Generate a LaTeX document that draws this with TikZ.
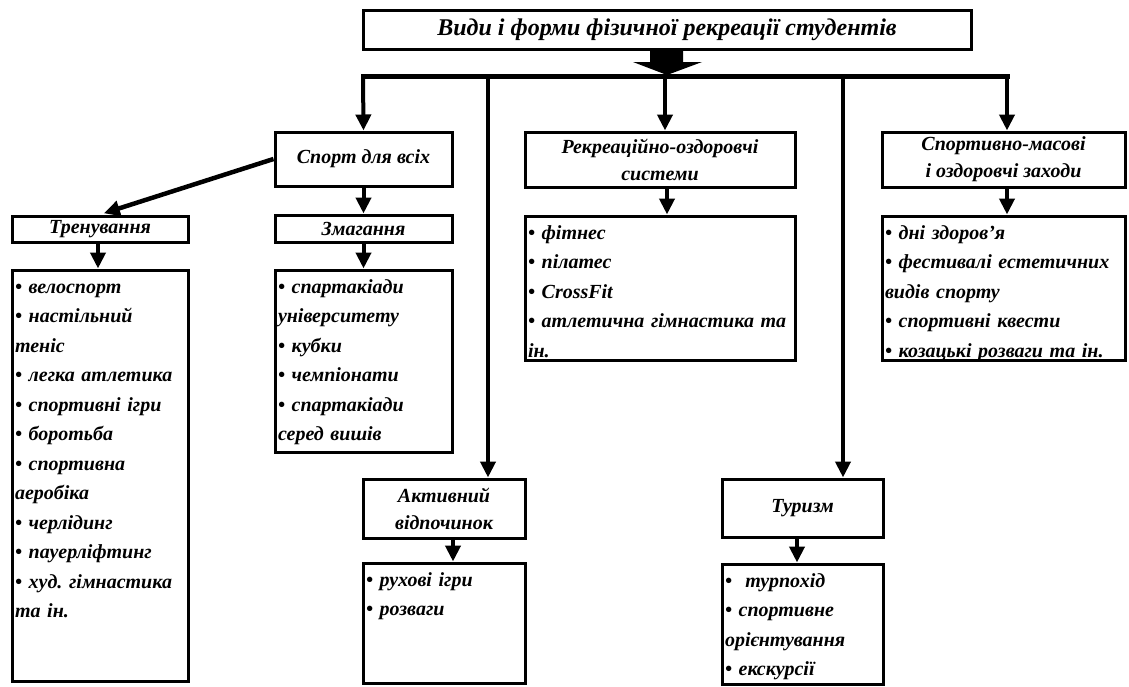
\documentclass[tikz,border=0pt]{standalone}
\usepackage{fontspec}
\setmainfont{Liberation Serif}
\usetikzlibrary{arrows.meta}
\frenchspacing
\newcommand{\entries}[2]{\parbox[c][#1pt][t]{\linewidth}{\raggedright\rule{0pt}{23pt}#2}}

\begin{document}
\begin{tikzpicture}[x=1pt,y=-1pt,
  box/.style={draw, line width=3pt, inner sep=0pt, align=center, font=\fontsize{20}{27}\selectfont\bfseries\itshape},
  lst/.style={box, align=left, inner xsep=3pt, font=\fontsize{20}{29.5}\selectfont\bfseries\itshape},
  arr/.style={line width=4pt, -{Triangle[length=16pt,width=15pt]}}]
  \useasboundingbox (0,0) rectangle (1129,686);
  \node[box, minimum width=608, minimum height=39, font=\fontsize{24}{28}\selectfont\bfseries\itshape] (title) at (667,29.5) {Види і форми фізичної рекреації студентів};
  \fill (650,49) -- (683,49) -- (683,62) -- (702,62) -- (667,75) -- (633,62) -- (650,62) -- cycle;
  \coordinate (b1) at (363,76); \coordinate (b2) at (488,76); \coordinate (b3) at (665,76);
  \coordinate (b4) at (843,76); \coordinate (b5) at (1007,76);
  \draw[line width=5pt, line cap=rect] (b1) -- (b5);

  \node[box, minimum width=177, minimum height=54] (spd) at (363.5,159) {Спорт для всіх};
  \node[box, minimum width=176, minimum height=26] (trn) at (100,229) {Тренування};
  \node[box, minimum width=177, minimum height=27] (zmg) at (363.5,228.5) {Змагання};
  \node[lst, text width=170] (trnl) at (100,475.5) {\entries{411}{• велоспорт\\• настільний\\теніс\\• легка атлетика\\• спортивні ігри\\• боротьба\\• спортивна\\аеробіка\\• черлідинг\\• пауерліфтинг\\• худ. гімнастика\\та ін.}};
  \node[lst, text width=171] (zmgl) at (363.5,361) {\entries{182}{• спартакіади\\університету\\• кубки\\• чемпіонати\\• спартакіади\\серед вишів}};
  \node[box, minimum width=270, minimum height=55] (rek) at (660,159.5) {Рекреаційно-оздоровчі\\системи};
  \node[lst, text width=264] (rekl) at (660,288) {\entries{144}{• фітнес\\• пілатес\\• CrossFit\\• атлетична гімнастика та\\ін.}};
  \node[box, minimum width=243, minimum height=55] (smz) at (1003.5,159.5) {Спортивно-масові\\і оздоровчі заходи};
  \node[lst, text width=237] (smzl) at (1003.5,288) {\entries{144}{• дні здоров’я\\• фестивалі естетичних\\видів спорту\\• спортивні квести\\• козацькі розваги та ін.}};
  \node[box, minimum width=162, minimum height=59] (akt) at (444,508.5) {Активний\\відпочинок};
  \node[lst, text width=156] (aktl) at (444,623) {\entries{120}{• рухові ігри\\• розваги}};
  \node[box, minimum width=161, minimum height=58] (tur) at (802.5,508) {Туризм};
  \node[lst, text width=155] (turl) at (802.5,624) {\entries{120}{•\ \ турпохід\\• спортивне\\орієнтування\\• екскурсії}};

  \draw[arr] (b1) -- (spd.north);
  \draw[arr] (b2) -- (b2 |- akt.north);
  \draw[arr] (b3) -- (b3 |- rek.north);
  \draw[arr] (b4) -- (b4 |- tur.north);
  \draw[arr] (b5) -- (b5 |- smz.north);
  \draw[arr, line width=4.5pt, shorten >=4pt] (spd.west) -- (trn.north);
  \draw[arr] (spd.south) -- (zmg.north);
  \draw[arr] ([xshift=-2]trn.south) -- ([xshift=-2]trnl.north);
  \draw[arr] (zmg.south) -- (zmgl.north);
  \draw[arr] ([xshift=7]rek.south) -- ([xshift=7]rekl.north);
  \draw[arr] ([xshift=3.5]smz.south) -- ([xshift=3.5]smzl.north);
  \draw[arr] ([xshift=9]akt.south) -- ([xshift=9]aktl.north);
  \draw[arr] ([xshift=-5.5]tur.south) -- ([xshift=-5.5]turl.north);
\end{tikzpicture}
\end{document}
